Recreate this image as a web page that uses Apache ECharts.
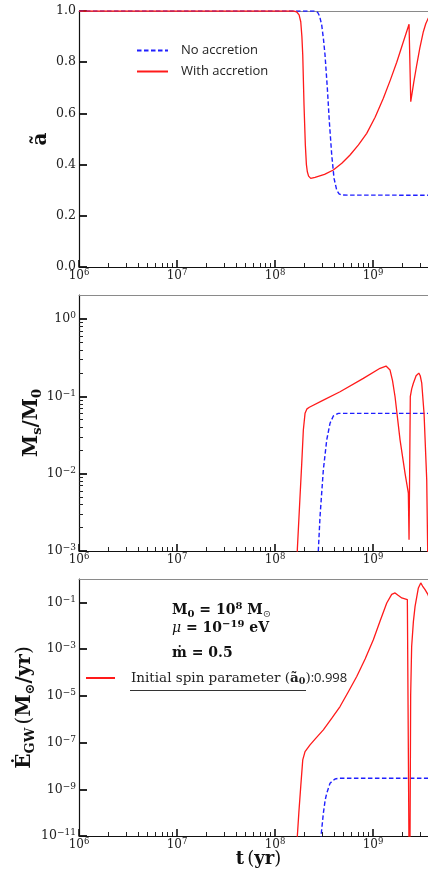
<!DOCTYPE html>
<html>
<head>
<meta charset="utf-8">
<script src="https://cdn.jsdelivr.net/npm/echarts@6/dist/echarts.min.js"></script>
<style>
  html, body { margin: 0; padding: 0; background: #fff; }
  #chart { width: 428px; height: 878px; }
</style>
</head>
<body>
<div id="chart"></div>
<script>
// ---- time axis (years, log) ----
const tMin = 1e6;
const tMax = 4.6e9;
const tMajorTicks = [1e6, 1e7, 1e8, 1e9];

// ---- panel 1: dimensionless spin ----
const spinTicks = [0, 0.2, 0.4, 0.6, 0.8, 1.0];
const spinNoAccretion = [
  [1e6, 1], [2.55e8, 1], [2.72e8, 0.995], [2.85e8, 0.98], [2.996e8, 0.945],
  [3.12e8, 0.89], [3.237e8, 0.828], [3.418e8, 0.698], [3.582e8, 0.568],
  [3.789e8, 0.4375], [4.0e8, 0.346], [4.262e8, 0.30], [4.5e8, 0.286],
  [4.793e8, 0.281], [1e10, 0.28]
];
const spinWithAccretion = [
  [1e6, 1], [1.55e8, 1], [1.66e8, 0.997], [1.76e8, 0.985], [1.83e8, 0.958],
  [1.88e8, 0.90], [1.918e8, 0.828], [1.976e8, 0.633], [2.038e8, 0.477],
  [2.09e8, 0.40], [2.136e8, 0.372], [2.2e8, 0.355], [2.314e8, 0.346],
  [2.56e8, 0.35], [3.2e8, 0.362], [3.935e8, 0.379], [4.8e8, 0.405],
  [5.826e8, 0.4375], [7.1e8, 0.477], [8.62e8, 0.522], [1.05e9, 0.585],
  [1.274e9, 0.659], [1.5e9, 0.73], [1.745e9, 0.80], [2.0e9, 0.87],
  [2.33e9, 0.948], [2.425e9, 0.646], [2.6e9, 0.72], [2.79e9, 0.789],
  [3.0e9, 0.855], [3.26e9, 0.919], [3.45e9, 0.95], [3.64e9, 0.97],
  [3.9e9, 0.99], [4.2e9, 0.998], [4.7e9, 0.998]
];

// ---- panel 2: cloud mass fraction ----
const massTicks = [1e-3, 1e-2, 1e-1, 1];
const massMin = 1e-3;
const massMax = 2.05;
const massNoAccretion = [
  [2.7e8, 1e-4], [2.765e8, 1e-3], [2.878e8, 2.79e-3], [3.111e8, 1.12e-2],
  [3.37e8, 2.74e-2], [3.64e8, 4.49e-2], [3.935e8, 5.58e-2], [4.425e8, 0.0604],
  [1e10, 0.0604]
];
const massWithAccretion = [
  [1.6e8, 1e-4], [1.689e8, 1.05e-3], [1.799e8, 5.06e-3], [1.873e8, 1.36e-2],
  [1.945e8, 3.68e-2], [2.024e8, 6.04e-2], [2.12e8, 6.9e-2], [2.239e8, 7.23e-2],
  [3.111e8, 8.97e-2], [4.606e8, 0.115], [7.96e8, 0.171], [1.179e9, 0.231],
  [1.357e9, 0.247], [1.42e9, 0.24], [1.491e9, 0.219], [1.58e9, 0.16],
  [1.677e9, 0.099], [1.886e9, 0.0274], [2.121e9, 0.0101], [2.292e9, 5.6e-3],
  [2.33e9, 1.4e-3], [2.4e9, 0.099], [2.48e9, 0.125], [2.578e9, 0.148],
  [2.75e9, 0.185], [2.93e9, 0.2], [3.03e9, 0.185], [3.14e9, 0.148],
  [3.315e9, 0.060], [3.53e9, 8.3e-3], [3.7e9, 1e-4]
];

// ---- panel 3: GW power ----
const gwTicks = [1e-11, 1e-9, 1e-7, 1e-5, 1e-3, 1e-1];
const gwMin = 1e-11;
const gwMax = 1;
const gwNoAccretion = [
  [2.9e8, 1e-13], [2.947e8, 1e-11], [3.111e8, 9.3e-11], [3.25e8, 3.5e-10],
  [3.37e8, 6.76e-10], [3.64e8, 1.82e-9], [4.095e8, 2.77e-9], [4.5e8, 2.95e-9],
  [1e10, 2.97e-9]
];
const gwWithAccretion = [
  [1.6e8, 1e-13], [1.689e8, 1e-11], [1.75e8, 1e-10], [1.829e8, 1.3e-9],
  [1.918e8, 1.81e-8], [2.024e8, 4.11e-8], [2.276e8, 7.94e-8], [2.6e8, 1.5e-7],
  [3.111e8, 3.5e-7], [3.8e8, 1.1e-6], [4.606e8, 3.48e-6], [5.6e8, 1.5e-5],
  [6.818e8, 6.73e-5], [8.3e8, 3.8e-4], [1.007e9, 2.52e-3], [1.18e9, 1.6e-2],
  [1.38e9, 0.0942], [1.55e9, 0.22], [1.677e9, 0.253], [1.8e9, 0.2],
  [1.963e9, 0.155], [2.239e9, 0.132], [2.314e9, 0.125], [2.34e9, 1e-13],
  [2.38e9, 1e-12], [2.42e9, 1e-5], [2.477e9, 1.29e-3], [2.58e9, 0.015],
  [2.684e9, 0.0676], [2.9e9, 0.414], [3.067e9, 0.679], [3.2e9, 0.5],
  [3.394e9, 0.35], [3.64e9, 0.214], [3.9e9, 0.1]
];

// ---- styling ----
const SERIF = '"DejaVu Serif", "Liberation Serif", serif';
const SANS = '"Open Sans", "Noto Sans", sans-serif';
const RED = '#ff1a1a';
const BLUE = '#1f1fff';

// log minor tick positions (2..9 per decade) between lo and hi
function minorLogTicks(lo, hi) {
  const out = [];
  for (let e = Math.floor(Math.log10(lo)); e <= Math.ceil(Math.log10(hi)); e++) {
    for (let k = 2; k <= 9; k++) {
      const v = k * Math.pow(10, e);
      if (v > lo && v < hi) out.push(v);
    }
  }
  return out;
}

function powLabel(v) {
  const e = Math.round(Math.log10(v));
  return '{b|10}{s|' + (e < 0 ? '\u2212' + (-e) : e) + '}';
}

const tickRich = {
  b: { fontFamily: SERIF, fontSize: 12, lineHeight: 15, color: '#222' },
  s: { fontFamily: SERIF, fontSize: 8.5, lineHeight: 9, verticalAlign: 'top', color: '#222' }
};
const yTickRich = {
  b: { fontFamily: SERIF, fontSize: 12.5, lineHeight: 15, color: '#222' },
  s: { fontFamily: SERIF, fontSize: 9, lineHeight: 9, verticalAlign: 'top', color: '#222' }
};

// three stacked panels; the time axis runs past the right edge of the canvas
const grids = [
  { left: 79, width: 359, top: 11, height: 256 },
  { left: 79, width: 359, top: 295, height: 256 },
  { left: 79, width: 359, top: 579, height: 257 }
].map(g => Object.assign(g, { show: false, outerBoundsMode: 'none', containLabel: false }));

const xMinor = minorLogTicks(tMin, tMax);

const xAxes = [];
grids.forEach((g, i) => {
  const major = {
    gridIndex: i, type: 'log', min: tMin, max: tMax, position: 'bottom',
    axisLine: { show: true, lineStyle: { color: '#111', width: 1.2 } },
    axisTick: { show: true, inside: true, length: 7, customValues: tMajorTicks,
      lineStyle: { color: '#111', width: 1.6 } },
    axisLabel: { show: true, customValues: tMajorTicks, margin: 1, formatter: powLabel, rich: tickRich },
    splitLine: { show: false }, minorTick: { show: false }
  };
  if (i === 2) {
    major.name = '{b|t} {p|(}{b|yr}{p|)}';
    major.nameLocation = 'middle';
    major.nameGap = 12;
    major.nameMoveOverlap = false;
    major.nameTextStyle = {
      rich: {
        b: { fontFamily: SERIF, fontWeight: 'bold', fontSize: 18, color: '#111', lineHeight: 22 },
        p: { fontFamily: SERIF, fontSize: 18, color: '#111', lineHeight: 22 }
      }
    };
  }
  xAxes.push(major);
  // minor ticks along the bottom
  xAxes.push({
    gridIndex: i, type: 'log', min: tMin, max: tMax, position: 'bottom',
    axisLine: { show: false },
    axisTick: { show: true, inside: true, length: 4, customValues: xMinor,
      lineStyle: { color: '#222', width: 1 } },
    axisLabel: { show: false }, splitLine: { show: false }
  });
  // plain frame line along the top
  xAxes.push({
    gridIndex: i, type: 'log', min: tMin, max: tMax, position: 'top',
    axisLine: { show: true, lineStyle: { color: '#8a8a8a', width: 1 } },
    axisTick: { show: false }, axisLabel: { show: false }, splitLine: { show: false }
  });
});

const yAxes = [
  {
    gridIndex: 0, type: 'value', min: 0, max: 1, position: 'left',
    axisLine: { show: true, lineStyle: { color: '#111', width: 1.2 } },
    axisTick: { show: true, inside: true, length: 8, customValues: spinTicks, lineStyle: { color: '#111', width: 1.8 } },
    axisLabel: { customValues: spinTicks, margin: 3, formatter: v => v.toFixed(1),
      fontFamily: SERIF, fontSize: 12.5, color: '#222' },
    splitLine: { show: false },
    name: '\u00e3', nameLocation: 'middle', nameGap: 27, nameRotate: 90, nameMoveOverlap: false,
    nameTextStyle: { fontFamily: SERIF, fontWeight: 'bold', fontSize: 20, lineHeight: 22, color: '#111' }
  },
  {
    gridIndex: 1, type: 'log', min: massMin, max: massMax, position: 'left',
    axisLine: { show: true, lineStyle: { color: '#111', width: 1.2 } },
    axisTick: { show: true, inside: true, length: 8, customValues: massTicks, lineStyle: { color: '#111', width: 1.8 } },
    axisLabel: { customValues: massTicks, margin: 3, formatter: powLabel, rich: yTickRich },
    splitLine: { show: false },
    name: '{b|M}{s|s}{b|/M}{s|0}', nameLocation: 'middle', nameGap: 35, nameRotate: 90, nameMoveOverlap: false,
    nameTextStyle: {
      rich: {
        b: { fontFamily: SERIF, fontWeight: 'bold', fontSize: 20, lineHeight: 24, color: '#111' },
        s: { fontFamily: SERIF, fontWeight: 'bold', fontSize: 13, lineHeight: 13, verticalAlign: 'bottom', color: '#111' }
      }
    }
  },
  {
    gridIndex: 1, type: 'log', min: massMin, max: massMax, position: 'left',
    axisLine: { show: false },
    axisTick: { show: true, inside: true, length: 4, customValues: minorLogTicks(massMin, 1), lineStyle: { color: '#222', width: 1 } },
    axisLabel: { show: false }, splitLine: { show: false }
  },
  {
    gridIndex: 2, type: 'log', min: gwMin, max: gwMax, position: 'left',
    axisLine: { show: true, lineStyle: { color: '#111', width: 1.2 } },
    axisTick: { show: true, inside: true, length: 8, customValues: gwTicks, lineStyle: { color: '#111', width: 1.8 } },
    axisLabel: { customValues: gwTicks, margin: 3, formatter: powLabel, rich: yTickRich },
    splitLine: { show: false },
    name: '{b|\u0116}{s|GW} {p|(}{b|M}{s|\u2299}{b|/yr}{p|)}', nameLocation: 'middle', nameGap: 42, nameRotate: 90, nameMoveOverlap: false,
    nameTextStyle: {
      rich: {
        b: { fontFamily: SERIF, fontWeight: 'bold', fontSize: 20, lineHeight: 24, color: '#111' },
        p: { fontFamily: SERIF, fontSize: 20, lineHeight: 24, color: '#111' },
        s: { fontFamily: SERIF, fontWeight: 'bold', fontSize: 13, lineHeight: 13, verticalAlign: 'bottom', color: '#111' }
      }
    }
  }
];

function lineSeries(name, data, xi, yi, color, dashed) {
  return {
    name, type: 'line', data, xAxisIndex: xi, yAxisIndex: yi,
    symbol: 'none', smooth: false, clip: true, silent: true, animation: false,
    lineStyle: { color, width: dashed ? 1.4 : 1.3, type: dashed ? [4.5, 2.5] : 'solid' },
    itemStyle: { color }
  };
}

const A0_NAME = 'Initial spin parameter (a0):0.998';

const option = {
  animation: false,
  backgroundColor: '#fff',
  grid: grids,
  xAxis: xAxes,
  yAxis: yAxes,
  legend: [
    {
      data: ['No accretion', 'With accretion'],
      left: 136, top: 44, orient: 'vertical', padding: 0,
      itemWidth: 31, itemHeight: 12, itemGap: 8,
      selectedMode: false,
      itemStyle: { opacity: 0 },
      textStyle: { fontFamily: SANS, fontSize: 13, color: '#222', padding: [0, 0, 0, 8] }
    },
    {
      data: [A0_NAME],
      left: 85, top: 671, orient: 'vertical', padding: 0,
      itemWidth: 29, itemHeight: 14,
      selectedMode: false,
      itemStyle: { opacity: 0 },
      formatter: () => '{s|Initial spin parameter (}{b|\u00e3}{sub|0}{s|)}{n|:0.998}',
      textStyle: {
        padding: [0, 0, 0, 11],
        rich: {
          s: { fontFamily: SERIF, fontSize: 13.5, color: '#222', lineHeight: 18 },
          b: { fontFamily: SERIF, fontWeight: 'bold', fontSize: 13.5, color: '#222', lineHeight: 18 },
          sub: { fontFamily: SERIF, fontWeight: 'bold', fontSize: 9.5, color: '#222', lineHeight: 10, verticalAlign: 'bottom' },
          n: { fontFamily: SANS, fontSize: 13, color: '#222', lineHeight: 18 }
        }
      }
    }
  ],
  graphic: [
    {
      type: 'text', left: 172, top: 601,
      style: {
        text: '{b|M}{bs|0}{b| = 10}{bp|8}{b| M}{ns|\u2299}',
        rich: {
          b: { fontFamily: SERIF, fontWeight: 'bold', fontSize: 14, lineHeight: 18, fill: '#111' },
          bs: { fontFamily: SERIF, fontWeight: 'bold', fontSize: 10, lineHeight: 10, verticalAlign: 'bottom', fill: '#111' },
          bp: { fontFamily: SERIF, fontWeight: 'bold', fontSize: 10, lineHeight: 10, verticalAlign: 'top', fill: '#111' },
          ns: { fontFamily: SERIF, fontSize: 10, lineHeight: 10, verticalAlign: 'bottom', fill: '#444' }
        }
      }
    },
    {
      type: 'text', left: 172, top: 619,
      style: {
        text: '{i|\u03bc}{b| = 10}{bp|\u221219}{b| eV}',
        rich: {
          i: { fontFamily: SERIF, fontStyle: 'italic', fontSize: 14, lineHeight: 18, fill: '#111' },
          b: { fontFamily: SERIF, fontWeight: 'bold', fontSize: 14, lineHeight: 18, fill: '#111' },
          bp: { fontFamily: SERIF, fontWeight: 'bold', fontSize: 10, lineHeight: 10, verticalAlign: 'top', fill: '#111' }
        }
      }
    },
    {
      type: 'text', left: 172, top: 646,
      style: {
        text: '{b|\u1e41 = 0.5}',
        rich: {
          b: { fontFamily: SERIF, fontWeight: 'bold', fontSize: 14, lineHeight: 18, fill: '#111' }
        }
      }
    },
    {
      type: 'line', shape: { x1: 130, y1: 690.5, x2: 306, y2: 690.5 },
      style: { stroke: '#333', lineWidth: 1 }
    }
  ],
  series: [
    lineSeries('No accretion', spinNoAccretion, 0, 0, BLUE, true),
    lineSeries('With accretion', spinWithAccretion, 0, 0, RED, false),
    lineSeries('No accretion', massNoAccretion, 3, 1, BLUE, true),
    lineSeries('With accretion', massWithAccretion, 3, 1, RED, false),
    lineSeries('No accretion', gwNoAccretion, 6, 3, BLUE, true),
    lineSeries(A0_NAME, gwWithAccretion, 6, 3, RED, false)
  ]
};

const chart = echarts.init(document.getElementById('chart'), null, { renderer: 'canvas' });
chart.setOption(option);
</script>
</body>
</html>
